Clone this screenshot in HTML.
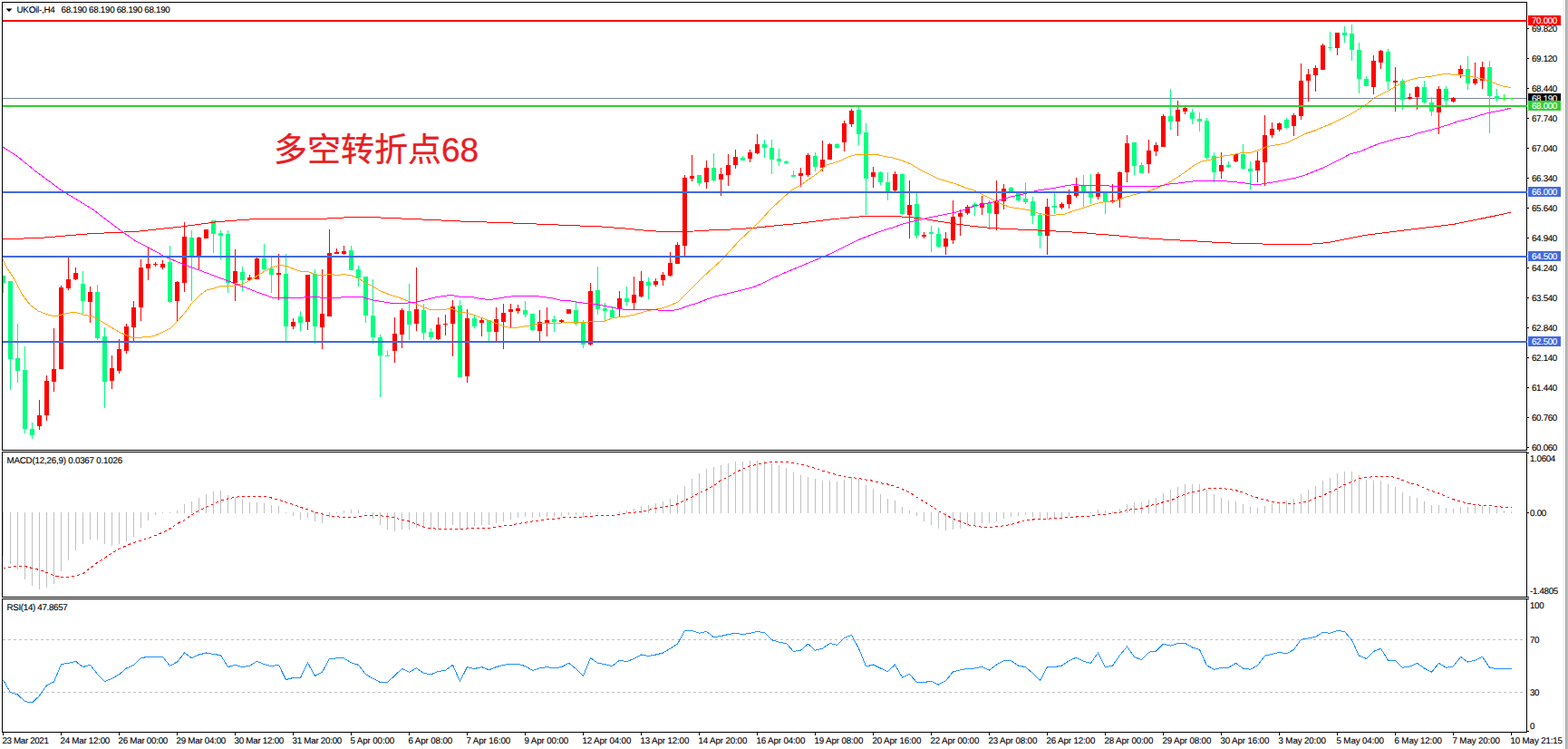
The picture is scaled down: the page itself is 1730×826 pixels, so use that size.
<!DOCTYPE html>
<html><head><meta charset="utf-8"><title>UKOil H4</title>
<style>
html,body{margin:0;padding:0;background:#fff;}
body{width:1730px;height:826px;overflow:hidden;}
svg{display:block;font-family:"Liberation Sans",sans-serif;text-rendering:geometricPrecision;}
</style></head><body>
<svg width="1730" height="826" viewBox="0 0 1730 826">
<rect width="1730" height="826" fill="#fff"/>
<rect x="1725" y="0" width="1" height="826" fill="#e9e9e9"/>
<rect x="1727" y="0" width="1" height="826" fill="#a3a3a3"/>
<rect x="1728" y="0" width="2" height="826" fill="#bcbcbc"/>
<g shape-rendering="crispEdges">
<rect x="3" y="108" width="1681" height="1" fill="#778899"/>
<rect x="3" y="304" width="1" height="19" fill="#00ff7f"/>
<rect x="3" y="304" width="3" height="8" fill="#00ff7f"/>
<rect x="11" y="310" width="1" height="120" fill="#00ff7f"/>
<rect x="9" y="310" width="5" height="86" fill="#00ff7f"/>
<rect x="19" y="357" width="1" height="65" fill="#00ff7f"/>
<rect x="17" y="395" width="5" height="14" fill="#00ff7f"/>
<rect x="27" y="382" width="1" height="96" fill="#00ff7f"/>
<rect x="25" y="408" width="5" height="65" fill="#00ff7f"/>
<rect x="35" y="466" width="1" height="18" fill="#00ff7f"/>
<rect x="33" y="473" width="5" height="7" fill="#00ff7f"/>
<rect x="43" y="441" width="1" height="33" fill="#ff0000"/>
<rect x="41" y="458" width="5" height="12" fill="#ff0000"/>
<rect x="51" y="414" width="1" height="50" fill="#ff0000"/>
<rect x="49" y="420" width="5" height="38" fill="#ff0000"/>
<rect x="59" y="362" width="1" height="70" fill="#ff0000"/>
<rect x="57" y="407" width="5" height="14" fill="#ff0000"/>
<rect x="67" y="315" width="1" height="92" fill="#ff0000"/>
<rect x="65" y="317" width="5" height="90" fill="#ff0000"/>
<rect x="75" y="284" width="1" height="36" fill="#ff0000"/>
<rect x="73" y="308" width="5" height="10" fill="#ff0000"/>
<rect x="83" y="295" width="1" height="14" fill="#ff0000"/>
<rect x="81" y="301" width="5" height="7" fill="#ff0000"/>
<rect x="91" y="299" width="1" height="47" fill="#00ff7f"/>
<rect x="89" y="313" width="5" height="19" fill="#00ff7f"/>
<rect x="99" y="316" width="1" height="40" fill="#ff0000"/>
<rect x="97" y="322" width="5" height="11" fill="#ff0000"/>
<rect x="107" y="314" width="1" height="61" fill="#00ff7f"/>
<rect x="105" y="322" width="5" height="51" fill="#00ff7f"/>
<rect x="115" y="361" width="1" height="89" fill="#00ff7f"/>
<rect x="113" y="371" width="5" height="50" fill="#00ff7f"/>
<rect x="123" y="392" width="1" height="37" fill="#ff0000"/>
<rect x="121" y="406" width="5" height="14" fill="#ff0000"/>
<rect x="131" y="374" width="1" height="38" fill="#ff0000"/>
<rect x="129" y="385" width="5" height="24" fill="#ff0000"/>
<rect x="139" y="357" width="1" height="33" fill="#ff0000"/>
<rect x="137" y="360" width="5" height="27" fill="#ff0000"/>
<rect x="147" y="332" width="1" height="44" fill="#ff0000"/>
<rect x="145" y="339" width="5" height="22" fill="#ff0000"/>
<rect x="155" y="286" width="1" height="68" fill="#ff0000"/>
<rect x="153" y="295" width="5" height="44" fill="#ff0000"/>
<rect x="163" y="273" width="1" height="36" fill="#ff0000"/>
<rect x="161" y="291" width="5" height="5" fill="#ff0000"/>
<rect x="171" y="289" width="1" height="5" fill="#ff0000"/>
<rect x="169" y="291" width="5" height="1" fill="#ff0000"/>
<rect x="179" y="287" width="1" height="10" fill="#ff0000"/>
<rect x="177" y="291" width="5" height="4" fill="#ff0000"/>
<rect x="187" y="271" width="1" height="63" fill="#00ff7f"/>
<rect x="185" y="289" width="5" height="44" fill="#00ff7f"/>
<rect x="195" y="310" width="1" height="44" fill="#ff0000"/>
<rect x="193" y="311" width="5" height="21" fill="#ff0000"/>
<rect x="203" y="245" width="1" height="77" fill="#ff0000"/>
<rect x="201" y="261" width="5" height="51" fill="#ff0000"/>
<rect x="211" y="254" width="1" height="78" fill="#00ff7f"/>
<rect x="209" y="262" width="5" height="20" fill="#00ff7f"/>
<rect x="219" y="261" width="1" height="36" fill="#ff0000"/>
<rect x="217" y="262" width="5" height="20" fill="#ff0000"/>
<rect x="227" y="253" width="1" height="10" fill="#ff0000"/>
<rect x="225" y="253" width="5" height="10" fill="#ff0000"/>
<rect x="235" y="243" width="1" height="36" fill="#00ff7f"/>
<rect x="233" y="243" width="5" height="15" fill="#00ff7f"/>
<rect x="243" y="254" width="1" height="32" fill="#00ff7f"/>
<rect x="241" y="257" width="5" height="3" fill="#00ff7f"/>
<rect x="251" y="254" width="1" height="69" fill="#00ff7f"/>
<rect x="249" y="258" width="5" height="54" fill="#00ff7f"/>
<rect x="259" y="275" width="1" height="57" fill="#ff0000"/>
<rect x="257" y="299" width="5" height="13" fill="#ff0000"/>
<rect x="267" y="294" width="1" height="27" fill="#00ff7f"/>
<rect x="265" y="300" width="5" height="9" fill="#00ff7f"/>
<rect x="275" y="303" width="1" height="7" fill="#ff0000"/>
<rect x="273" y="306" width="5" height="3" fill="#ff0000"/>
<rect x="283" y="284" width="1" height="24" fill="#ff0000"/>
<rect x="281" y="285" width="5" height="23" fill="#ff0000"/>
<rect x="291" y="269" width="1" height="29" fill="#00ff7f"/>
<rect x="289" y="285" width="5" height="12" fill="#00ff7f"/>
<rect x="299" y="284" width="1" height="39" fill="#00ff7f"/>
<rect x="297" y="296" width="5" height="7" fill="#00ff7f"/>
<rect x="307" y="280" width="1" height="51" fill="#ff0000"/>
<rect x="305" y="301" width="5" height="2" fill="#ff0000"/>
<rect x="315" y="280" width="1" height="96" fill="#00ff7f"/>
<rect x="313" y="302" width="5" height="58" fill="#00ff7f"/>
<rect x="323" y="351" width="1" height="12" fill="#ff0000"/>
<rect x="321" y="355" width="5" height="5" fill="#ff0000"/>
<rect x="331" y="343" width="1" height="22" fill="#00ff7f"/>
<rect x="329" y="349" width="5" height="7" fill="#00ff7f"/>
<rect x="339" y="303" width="1" height="61" fill="#ff0000"/>
<rect x="337" y="303" width="5" height="52" fill="#ff0000"/>
<rect x="347" y="297" width="1" height="82" fill="#00ff7f"/>
<rect x="345" y="302" width="5" height="58" fill="#00ff7f"/>
<rect x="355" y="297" width="1" height="88" fill="#ff0000"/>
<rect x="353" y="346" width="5" height="15" fill="#ff0000"/>
<rect x="363" y="253" width="1" height="96" fill="#ff0000"/>
<rect x="361" y="279" width="5" height="70" fill="#ff0000"/>
<rect x="371" y="274" width="1" height="6" fill="#ff0000"/>
<rect x="369" y="278" width="5" height="2" fill="#ff0000"/>
<rect x="379" y="271" width="1" height="10" fill="#ff0000"/>
<rect x="377" y="277" width="5" height="3" fill="#ff0000"/>
<rect x="387" y="271" width="1" height="27" fill="#00ff7f"/>
<rect x="385" y="276" width="5" height="22" fill="#00ff7f"/>
<rect x="395" y="293" width="1" height="23" fill="#00ff7f"/>
<rect x="393" y="297" width="5" height="9" fill="#00ff7f"/>
<rect x="403" y="305" width="1" height="51" fill="#00ff7f"/>
<rect x="401" y="305" width="5" height="43" fill="#00ff7f"/>
<rect x="411" y="308" width="1" height="71" fill="#00ff7f"/>
<rect x="409" y="348" width="5" height="24" fill="#00ff7f"/>
<rect x="419" y="369" width="1" height="69" fill="#00ff7f"/>
<rect x="417" y="372" width="5" height="20" fill="#00ff7f"/>
<rect x="427" y="387" width="1" height="6" fill="#00ff7f"/>
<rect x="425" y="392" width="5" height="1" fill="#00ff7f"/>
<rect x="435" y="350" width="1" height="50" fill="#ff0000"/>
<rect x="433" y="368" width="5" height="19" fill="#ff0000"/>
<rect x="443" y="340" width="1" height="44" fill="#ff0000"/>
<rect x="441" y="342" width="5" height="27" fill="#ff0000"/>
<rect x="451" y="313" width="1" height="62" fill="#00ff7f"/>
<rect x="449" y="343" width="5" height="15" fill="#00ff7f"/>
<rect x="459" y="295" width="1" height="70" fill="#ff0000"/>
<rect x="457" y="341" width="5" height="16" fill="#ff0000"/>
<rect x="467" y="335" width="1" height="40" fill="#00ff7f"/>
<rect x="465" y="342" width="5" height="25" fill="#00ff7f"/>
<rect x="475" y="362" width="1" height="13" fill="#00ff7f"/>
<rect x="473" y="366" width="5" height="6" fill="#00ff7f"/>
<rect x="483" y="350" width="1" height="25" fill="#ff0000"/>
<rect x="481" y="358" width="5" height="16" fill="#ff0000"/>
<rect x="491" y="347" width="1" height="23" fill="#ff0000"/>
<rect x="489" y="357" width="5" height="1" fill="#ff0000"/>
<rect x="499" y="331" width="1" height="62" fill="#ff0000"/>
<rect x="497" y="338" width="5" height="19" fill="#ff0000"/>
<rect x="507" y="331" width="1" height="85" fill="#00ff7f"/>
<rect x="505" y="337" width="5" height="79" fill="#00ff7f"/>
<rect x="515" y="341" width="1" height="81" fill="#ff0000"/>
<rect x="513" y="351" width="5" height="64" fill="#ff0000"/>
<rect x="523" y="348" width="1" height="14" fill="#00ff7f"/>
<rect x="521" y="351" width="5" height="9" fill="#00ff7f"/>
<rect x="531" y="351" width="1" height="20" fill="#ff0000"/>
<rect x="529" y="353" width="5" height="3" fill="#ff0000"/>
<rect x="539" y="353" width="1" height="23" fill="#00ff7f"/>
<rect x="537" y="353" width="5" height="13" fill="#00ff7f"/>
<rect x="547" y="339" width="1" height="37" fill="#ff0000"/>
<rect x="545" y="352" width="5" height="14" fill="#ff0000"/>
<rect x="555" y="335" width="1" height="50" fill="#ff0000"/>
<rect x="553" y="345" width="5" height="10" fill="#ff0000"/>
<rect x="563" y="335" width="1" height="27" fill="#ff0000"/>
<rect x="561" y="341" width="5" height="3" fill="#ff0000"/>
<rect x="571" y="336" width="1" height="10" fill="#ff0000"/>
<rect x="569" y="340" width="5" height="3" fill="#ff0000"/>
<rect x="579" y="332" width="1" height="18" fill="#00ff7f"/>
<rect x="577" y="342" width="5" height="5" fill="#00ff7f"/>
<rect x="587" y="346" width="1" height="19" fill="#00ff7f"/>
<rect x="585" y="346" width="5" height="18" fill="#00ff7f"/>
<rect x="595" y="342" width="1" height="34" fill="#ff0000"/>
<rect x="593" y="355" width="5" height="10" fill="#ff0000"/>
<rect x="603" y="339" width="1" height="32" fill="#ff0000"/>
<rect x="601" y="353" width="5" height="3" fill="#ff0000"/>
<rect x="611" y="348" width="1" height="18" fill="#00ff7f"/>
<rect x="609" y="352" width="5" height="3" fill="#00ff7f"/>
<rect x="619" y="352" width="1" height="4" fill="#ff0000"/>
<rect x="617" y="353" width="5" height="2" fill="#ff0000"/>
<rect x="627" y="341" width="1" height="5" fill="#ff0000"/>
<rect x="625" y="341" width="5" height="5" fill="#ff0000"/>
<rect x="635" y="333" width="1" height="26" fill="#00ff7f"/>
<rect x="633" y="342" width="5" height="15" fill="#00ff7f"/>
<rect x="643" y="353" width="1" height="31" fill="#00ff7f"/>
<rect x="641" y="356" width="5" height="24" fill="#00ff7f"/>
<rect x="651" y="312" width="1" height="69" fill="#ff0000"/>
<rect x="649" y="321" width="5" height="59" fill="#ff0000"/>
<rect x="659" y="294" width="1" height="53" fill="#00ff7f"/>
<rect x="657" y="320" width="5" height="21" fill="#00ff7f"/>
<rect x="667" y="334" width="1" height="20" fill="#00ff7f"/>
<rect x="665" y="340" width="5" height="3" fill="#00ff7f"/>
<rect x="675" y="338" width="1" height="13" fill="#00ff7f"/>
<rect x="673" y="342" width="5" height="8" fill="#00ff7f"/>
<rect x="683" y="321" width="1" height="29" fill="#ff0000"/>
<rect x="681" y="329" width="5" height="11" fill="#ff0000"/>
<rect x="691" y="316" width="1" height="21" fill="#00ff7f"/>
<rect x="689" y="329" width="5" height="4" fill="#00ff7f"/>
<rect x="699" y="305" width="1" height="36" fill="#ff0000"/>
<rect x="697" y="325" width="5" height="9" fill="#ff0000"/>
<rect x="707" y="299" width="1" height="29" fill="#ff0000"/>
<rect x="705" y="310" width="5" height="17" fill="#ff0000"/>
<rect x="715" y="306" width="1" height="24" fill="#00ff7f"/>
<rect x="713" y="311" width="5" height="4" fill="#00ff7f"/>
<rect x="723" y="307" width="1" height="9" fill="#ff0000"/>
<rect x="721" y="310" width="5" height="4" fill="#ff0000"/>
<rect x="731" y="300" width="1" height="15" fill="#ff0000"/>
<rect x="729" y="303" width="5" height="6" fill="#ff0000"/>
<rect x="739" y="278" width="1" height="27" fill="#ff0000"/>
<rect x="737" y="290" width="5" height="14" fill="#ff0000"/>
<rect x="747" y="267" width="1" height="24" fill="#ff0000"/>
<rect x="745" y="270" width="5" height="21" fill="#ff0000"/>
<rect x="755" y="193" width="1" height="89" fill="#ff0000"/>
<rect x="753" y="196" width="5" height="75" fill="#ff0000"/>
<rect x="763" y="171" width="1" height="29" fill="#ff0000"/>
<rect x="761" y="194" width="5" height="3" fill="#ff0000"/>
<rect x="771" y="193" width="1" height="12" fill="#00ff7f"/>
<rect x="769" y="193" width="5" height="9" fill="#00ff7f"/>
<rect x="779" y="177" width="1" height="31" fill="#ff0000"/>
<rect x="777" y="185" width="5" height="16" fill="#ff0000"/>
<rect x="787" y="169" width="1" height="31" fill="#00ff7f"/>
<rect x="785" y="185" width="5" height="14" fill="#00ff7f"/>
<rect x="795" y="185" width="1" height="31" fill="#ff0000"/>
<rect x="793" y="192" width="5" height="6" fill="#ff0000"/>
<rect x="803" y="170" width="1" height="35" fill="#ff0000"/>
<rect x="801" y="182" width="5" height="11" fill="#ff0000"/>
<rect x="811" y="165" width="1" height="21" fill="#ff0000"/>
<rect x="809" y="173" width="5" height="9" fill="#ff0000"/>
<rect x="819" y="172" width="1" height="5" fill="#00ff7f"/>
<rect x="817" y="174" width="5" height="3" fill="#00ff7f"/>
<rect x="827" y="165" width="1" height="14" fill="#ff0000"/>
<rect x="825" y="168" width="5" height="7" fill="#ff0000"/>
<rect x="835" y="148" width="1" height="22" fill="#ff0000"/>
<rect x="833" y="159" width="5" height="10" fill="#ff0000"/>
<rect x="843" y="154" width="1" height="20" fill="#00ff7f"/>
<rect x="841" y="159" width="5" height="4" fill="#00ff7f"/>
<rect x="851" y="154" width="1" height="38" fill="#00ff7f"/>
<rect x="849" y="163" width="5" height="13" fill="#00ff7f"/>
<rect x="859" y="164" width="1" height="19" fill="#00ff7f"/>
<rect x="857" y="175" width="5" height="3" fill="#00ff7f"/>
<rect x="867" y="177" width="1" height="4" fill="#00ff7f"/>
<rect x="865" y="178" width="5" height="2" fill="#00ff7f"/>
<rect x="875" y="188" width="1" height="7" fill="#00ff7f"/>
<rect x="873" y="193" width="5" height="2" fill="#00ff7f"/>
<rect x="883" y="185" width="1" height="21" fill="#ff0000"/>
<rect x="881" y="191" width="5" height="3" fill="#ff0000"/>
<rect x="891" y="169" width="1" height="26" fill="#ff0000"/>
<rect x="889" y="171" width="5" height="22" fill="#ff0000"/>
<rect x="899" y="168" width="1" height="21" fill="#00ff7f"/>
<rect x="897" y="172" width="5" height="12" fill="#00ff7f"/>
<rect x="907" y="155" width="1" height="34" fill="#ff0000"/>
<rect x="905" y="176" width="5" height="9" fill="#ff0000"/>
<rect x="915" y="158" width="1" height="18" fill="#ff0000"/>
<rect x="913" y="159" width="5" height="17" fill="#ff0000"/>
<rect x="923" y="158" width="1" height="6" fill="#00ff7f"/>
<rect x="921" y="159" width="5" height="4" fill="#00ff7f"/>
<rect x="931" y="133" width="1" height="34" fill="#ff0000"/>
<rect x="929" y="136" width="5" height="21" fill="#ff0000"/>
<rect x="939" y="120" width="1" height="20" fill="#ff0000"/>
<rect x="937" y="122" width="5" height="15" fill="#ff0000"/>
<rect x="947" y="118" width="1" height="42" fill="#00ff7f"/>
<rect x="945" y="121" width="5" height="27" fill="#00ff7f"/>
<rect x="955" y="136" width="1" height="101" fill="#00ff7f"/>
<rect x="953" y="146" width="5" height="51" fill="#00ff7f"/>
<rect x="963" y="184" width="1" height="23" fill="#ff0000"/>
<rect x="961" y="190" width="5" height="5" fill="#ff0000"/>
<rect x="971" y="189" width="1" height="15" fill="#00ff7f"/>
<rect x="969" y="190" width="5" height="11" fill="#00ff7f"/>
<rect x="979" y="190" width="1" height="31" fill="#00ff7f"/>
<rect x="977" y="201" width="5" height="10" fill="#00ff7f"/>
<rect x="987" y="189" width="1" height="22" fill="#ff0000"/>
<rect x="985" y="192" width="5" height="18" fill="#ff0000"/>
<rect x="995" y="191" width="1" height="46" fill="#00ff7f"/>
<rect x="993" y="192" width="5" height="44" fill="#00ff7f"/>
<rect x="1003" y="199" width="1" height="64" fill="#ff0000"/>
<rect x="1001" y="226" width="5" height="11" fill="#ff0000"/>
<rect x="1011" y="213" width="1" height="50" fill="#00ff7f"/>
<rect x="1009" y="225" width="5" height="35" fill="#00ff7f"/>
<rect x="1019" y="256" width="1" height="7" fill="#ff0000"/>
<rect x="1017" y="259" width="5" height="2" fill="#ff0000"/>
<rect x="1027" y="249" width="1" height="29" fill="#00ff7f"/>
<rect x="1025" y="256" width="5" height="2" fill="#00ff7f"/>
<rect x="1035" y="251" width="1" height="22" fill="#00ff7f"/>
<rect x="1033" y="258" width="5" height="14" fill="#00ff7f"/>
<rect x="1043" y="256" width="1" height="25" fill="#ff0000"/>
<rect x="1041" y="263" width="5" height="9" fill="#ff0000"/>
<rect x="1051" y="221" width="1" height="48" fill="#ff0000"/>
<rect x="1049" y="239" width="5" height="26" fill="#ff0000"/>
<rect x="1059" y="231" width="1" height="29" fill="#ff0000"/>
<rect x="1057" y="235" width="5" height="4" fill="#ff0000"/>
<rect x="1067" y="226" width="1" height="11" fill="#ff0000"/>
<rect x="1065" y="228" width="5" height="7" fill="#ff0000"/>
<rect x="1075" y="223" width="1" height="15" fill="#00ff7f"/>
<rect x="1073" y="225" width="5" height="3" fill="#00ff7f"/>
<rect x="1083" y="216" width="1" height="21" fill="#ff0000"/>
<rect x="1081" y="224" width="5" height="5" fill="#ff0000"/>
<rect x="1091" y="221" width="1" height="32" fill="#00ff7f"/>
<rect x="1089" y="224" width="5" height="11" fill="#00ff7f"/>
<rect x="1099" y="199" width="1" height="55" fill="#ff0000"/>
<rect x="1097" y="221" width="5" height="15" fill="#ff0000"/>
<rect x="1107" y="203" width="1" height="28" fill="#ff0000"/>
<rect x="1105" y="208" width="5" height="14" fill="#ff0000"/>
<rect x="1115" y="206" width="1" height="6" fill="#00ff7f"/>
<rect x="1113" y="207" width="5" height="5" fill="#00ff7f"/>
<rect x="1123" y="213" width="1" height="9" fill="#00ff7f"/>
<rect x="1121" y="213" width="5" height="8" fill="#00ff7f"/>
<rect x="1131" y="201" width="1" height="24" fill="#00ff7f"/>
<rect x="1129" y="219" width="5" height="4" fill="#00ff7f"/>
<rect x="1139" y="217" width="1" height="30" fill="#00ff7f"/>
<rect x="1137" y="222" width="5" height="16" fill="#00ff7f"/>
<rect x="1147" y="236" width="1" height="38" fill="#00ff7f"/>
<rect x="1145" y="237" width="5" height="23" fill="#00ff7f"/>
<rect x="1155" y="219" width="1" height="62" fill="#ff0000"/>
<rect x="1153" y="228" width="5" height="32" fill="#ff0000"/>
<rect x="1163" y="213" width="1" height="23" fill="#00ff7f"/>
<rect x="1161" y="227" width="5" height="2" fill="#00ff7f"/>
<rect x="1171" y="223" width="1" height="8" fill="#ff0000"/>
<rect x="1169" y="225" width="5" height="4" fill="#ff0000"/>
<rect x="1179" y="209" width="1" height="21" fill="#ff0000"/>
<rect x="1177" y="215" width="5" height="10" fill="#ff0000"/>
<rect x="1187" y="196" width="1" height="22" fill="#ff0000"/>
<rect x="1185" y="205" width="5" height="11" fill="#ff0000"/>
<rect x="1195" y="193" width="1" height="35" fill="#00ff7f"/>
<rect x="1193" y="204" width="5" height="8" fill="#00ff7f"/>
<rect x="1203" y="192" width="1" height="33" fill="#00ff7f"/>
<rect x="1201" y="211" width="5" height="7" fill="#00ff7f"/>
<rect x="1211" y="190" width="1" height="30" fill="#ff0000"/>
<rect x="1209" y="192" width="5" height="25" fill="#ff0000"/>
<rect x="1219" y="212" width="1" height="24" fill="#00ff7f"/>
<rect x="1217" y="213" width="5" height="9" fill="#00ff7f"/>
<rect x="1227" y="203" width="1" height="21" fill="#ff0000"/>
<rect x="1225" y="221" width="5" height="2" fill="#ff0000"/>
<rect x="1235" y="189" width="1" height="40" fill="#ff0000"/>
<rect x="1233" y="190" width="5" height="30" fill="#ff0000"/>
<rect x="1243" y="149" width="1" height="52" fill="#ff0000"/>
<rect x="1241" y="158" width="5" height="32" fill="#ff0000"/>
<rect x="1251" y="157" width="1" height="36" fill="#00ff7f"/>
<rect x="1249" y="157" width="5" height="26" fill="#00ff7f"/>
<rect x="1259" y="179" width="1" height="12" fill="#00ff7f"/>
<rect x="1257" y="182" width="5" height="9" fill="#00ff7f"/>
<rect x="1267" y="154" width="1" height="37" fill="#ff0000"/>
<rect x="1265" y="166" width="5" height="15" fill="#ff0000"/>
<rect x="1275" y="157" width="1" height="15" fill="#ff0000"/>
<rect x="1273" y="160" width="5" height="7" fill="#ff0000"/>
<rect x="1283" y="126" width="1" height="36" fill="#ff0000"/>
<rect x="1281" y="128" width="5" height="34" fill="#ff0000"/>
<rect x="1291" y="98" width="1" height="45" fill="#00ff7f"/>
<rect x="1289" y="128" width="5" height="6" fill="#00ff7f"/>
<rect x="1299" y="111" width="1" height="39" fill="#ff0000"/>
<rect x="1297" y="121" width="5" height="13" fill="#ff0000"/>
<rect x="1307" y="118" width="1" height="8" fill="#ff0000"/>
<rect x="1305" y="119" width="5" height="4" fill="#ff0000"/>
<rect x="1315" y="120" width="1" height="17" fill="#00ff7f"/>
<rect x="1313" y="124" width="5" height="7" fill="#00ff7f"/>
<rect x="1323" y="124" width="1" height="21" fill="#00ff7f"/>
<rect x="1321" y="131" width="5" height="3" fill="#00ff7f"/>
<rect x="1331" y="130" width="1" height="46" fill="#00ff7f"/>
<rect x="1329" y="133" width="5" height="41" fill="#00ff7f"/>
<rect x="1339" y="168" width="1" height="33" fill="#00ff7f"/>
<rect x="1337" y="172" width="5" height="18" fill="#00ff7f"/>
<rect x="1347" y="168" width="1" height="29" fill="#ff0000"/>
<rect x="1345" y="182" width="5" height="7" fill="#ff0000"/>
<rect x="1355" y="178" width="1" height="7" fill="#00ff7f"/>
<rect x="1353" y="182" width="5" height="2" fill="#00ff7f"/>
<rect x="1363" y="169" width="1" height="10" fill="#ff0000"/>
<rect x="1361" y="170" width="5" height="8" fill="#ff0000"/>
<rect x="1371" y="159" width="1" height="28" fill="#00ff7f"/>
<rect x="1369" y="170" width="5" height="16" fill="#00ff7f"/>
<rect x="1379" y="178" width="1" height="31" fill="#00ff7f"/>
<rect x="1377" y="186" width="5" height="3" fill="#00ff7f"/>
<rect x="1387" y="167" width="1" height="34" fill="#ff0000"/>
<rect x="1385" y="177" width="5" height="11" fill="#ff0000"/>
<rect x="1395" y="127" width="1" height="78" fill="#ff0000"/>
<rect x="1393" y="149" width="5" height="30" fill="#ff0000"/>
<rect x="1403" y="135" width="1" height="17" fill="#ff0000"/>
<rect x="1401" y="142" width="5" height="7" fill="#ff0000"/>
<rect x="1411" y="135" width="1" height="10" fill="#ff0000"/>
<rect x="1409" y="136" width="5" height="7" fill="#ff0000"/>
<rect x="1419" y="130" width="1" height="12" fill="#00ff7f"/>
<rect x="1417" y="132" width="5" height="9" fill="#00ff7f"/>
<rect x="1427" y="125" width="1" height="25" fill="#ff0000"/>
<rect x="1425" y="127" width="5" height="12" fill="#ff0000"/>
<rect x="1435" y="70" width="1" height="62" fill="#ff0000"/>
<rect x="1433" y="89" width="5" height="39" fill="#ff0000"/>
<rect x="1443" y="76" width="1" height="36" fill="#ff0000"/>
<rect x="1441" y="82" width="5" height="7" fill="#ff0000"/>
<rect x="1451" y="72" width="1" height="29" fill="#ff0000"/>
<rect x="1449" y="75" width="5" height="8" fill="#ff0000"/>
<rect x="1459" y="48" width="1" height="29" fill="#ff0000"/>
<rect x="1457" y="50" width="5" height="27" fill="#ff0000"/>
<rect x="1467" y="35" width="1" height="21" fill="#00ff7f"/>
<rect x="1465" y="52" width="5" height="1" fill="#00ff7f"/>
<rect x="1475" y="36" width="1" height="25" fill="#ff0000"/>
<rect x="1473" y="36" width="5" height="17" fill="#ff0000"/>
<rect x="1483" y="29" width="1" height="18" fill="#00ff7f"/>
<rect x="1481" y="36" width="5" height="3" fill="#00ff7f"/>
<rect x="1491" y="27" width="1" height="40" fill="#00ff7f"/>
<rect x="1489" y="37" width="5" height="18" fill="#00ff7f"/>
<rect x="1499" y="47" width="1" height="56" fill="#00ff7f"/>
<rect x="1497" y="55" width="5" height="32" fill="#00ff7f"/>
<rect x="1507" y="84" width="1" height="11" fill="#00ff7f"/>
<rect x="1505" y="87" width="5" height="8" fill="#00ff7f"/>
<rect x="1515" y="61" width="1" height="43" fill="#ff0000"/>
<rect x="1513" y="67" width="5" height="29" fill="#ff0000"/>
<rect x="1523" y="55" width="1" height="21" fill="#ff0000"/>
<rect x="1521" y="56" width="5" height="13" fill="#ff0000"/>
<rect x="1531" y="54" width="1" height="45" fill="#00ff7f"/>
<rect x="1529" y="57" width="5" height="33" fill="#00ff7f"/>
<rect x="1539" y="74" width="1" height="49" fill="#ff0000"/>
<rect x="1537" y="89" width="5" height="2" fill="#ff0000"/>
<rect x="1547" y="87" width="1" height="34" fill="#00ff7f"/>
<rect x="1545" y="89" width="5" height="21" fill="#00ff7f"/>
<rect x="1555" y="103" width="1" height="7" fill="#ff0000"/>
<rect x="1553" y="107" width="5" height="2" fill="#ff0000"/>
<rect x="1563" y="95" width="1" height="26" fill="#ff0000"/>
<rect x="1561" y="96" width="5" height="11" fill="#ff0000"/>
<rect x="1571" y="89" width="1" height="25" fill="#00ff7f"/>
<rect x="1569" y="96" width="5" height="17" fill="#00ff7f"/>
<rect x="1579" y="107" width="1" height="21" fill="#00ff7f"/>
<rect x="1577" y="113" width="5" height="10" fill="#00ff7f"/>
<rect x="1587" y="95" width="1" height="53" fill="#ff0000"/>
<rect x="1585" y="98" width="5" height="26" fill="#ff0000"/>
<rect x="1595" y="95" width="1" height="24" fill="#00ff7f"/>
<rect x="1593" y="98" width="5" height="13" fill="#00ff7f"/>
<rect x="1603" y="107" width="1" height="6" fill="#ff0000"/>
<rect x="1601" y="108" width="5" height="4" fill="#ff0000"/>
<rect x="1611" y="72" width="1" height="14" fill="#ff0000"/>
<rect x="1609" y="76" width="5" height="6" fill="#ff0000"/>
<rect x="1619" y="62" width="1" height="37" fill="#00ff7f"/>
<rect x="1617" y="76" width="5" height="16" fill="#00ff7f"/>
<rect x="1627" y="69" width="1" height="25" fill="#ff0000"/>
<rect x="1625" y="87" width="5" height="5" fill="#ff0000"/>
<rect x="1635" y="68" width="1" height="30" fill="#ff0000"/>
<rect x="1633" y="74" width="5" height="15" fill="#ff0000"/>
<rect x="1643" y="67" width="1" height="80" fill="#00ff7f"/>
<rect x="1641" y="74" width="5" height="32" fill="#00ff7f"/>
<rect x="1651" y="98" width="1" height="14" fill="#00ff7f"/>
<rect x="1649" y="106" width="5" height="3" fill="#00ff7f"/>
<rect x="1659" y="104" width="1" height="7" fill="#00ff00"/>
<rect x="1657" y="108" width="5" height="1" fill="#00ff00"/>
<rect x="1667" y="108" width="1" height="1" fill="#00ff00"/>
<rect x="1665" y="108" width="5" height="1" fill="#00ff00"/>
</g>
<g shape-rendering="crispEdges">
<polyline points="3.0,264.0 49.0,262.0 98.0,257.8 150.0,255.4 200.0,250.0 240.0,244.6 280.0,241.6 350.0,241.6 397.0,239.0 474.6,242.4 508.0,244.0 580.0,246.5 630.0,248.6 664.0,250.0 690.0,252.0 710.0,254.0 730.0,255.4 766.0,255.0 782.0,254.0 806.0,253.0 830.0,251.6 850.0,249.4 880.0,246.5 916.0,242.0 952.0,238.6 980.0,238.6 995.0,239.0 1015.0,240.6 1035.0,244.0 1055.0,247.0 1075.0,249.6 1095.0,251.6 1115.0,252.6 1135.0,253.6 1155.0,254.4 1175.0,255.6 1195.0,256.6 1209.0,258.0 1229.0,259.4 1258.0,262.3 1287.0,264.3 1316.0,265.7 1344.5,267.5 1373.0,268.6 1402.0,269.2 1446.0,269.2 1466.0,267.5 1489.0,262.8 1506.0,259.4 1547.0,254.2 1576.0,250.7 1604.6,247.2 1633.5,241.2 1651.0,237.7 1667.0,234.2" fill="none" stroke="#ff0000" stroke-width="1"/>
<polyline points="3.0,286.0 8.0,296.0 16.0,308.0 24.0,324.0 33.0,336.0 42.0,343.0 50.0,346.0 60.0,349.0 72.0,346.0 82.0,344.0 92.0,347.0 102.0,349.0 111.0,354.0 121.0,360.0 133.0,367.0 145.0,372.0 157.0,372.0 164.0,371.5 170.0,370.6 180.0,366.0 188.0,362.0 196.0,354.0 204.0,345.0 212.0,334.0 220.0,326.0 228.0,320.0 236.0,318.0 244.0,315.4 252.0,316.0 260.0,314.6 268.0,313.0 276.0,309.0 284.0,304.0 292.0,299.0 300.0,295.0 308.0,292.4 316.0,293.4 324.0,296.6 332.0,299.4 340.0,299.4 348.0,303.0 356.0,303.4 364.0,302.6 372.0,303.4 380.0,302.6 388.0,304.0 396.0,307.0 400.0,310.0 410.0,315.0 420.0,321.0 430.0,325.0 440.0,328.0 450.0,332.0 458.0,335.0 466.0,338.0 474.0,341.4 482.0,341.6 490.0,341.6 498.0,340.0 506.0,344.0 514.0,345.0 522.0,347.0 530.0,350.0 538.0,353.0 546.0,356.0 554.0,359.0 562.0,361.4 570.0,361.4 578.0,360.0 586.0,358.6 594.0,357.0 602.0,356.0 610.0,356.0 620.0,356.0 630.0,355.6 640.0,355.4 650.0,355.0 666.0,354.6 676.0,350.6 690.0,349.0 700.0,347.0 710.0,344.0 720.0,341.6 730.0,340.0 740.0,336.6 748.0,333.0 756.0,325.0 766.0,315.0 776.0,305.0 786.0,296.0 796.0,287.0 806.0,276.0 816.0,265.0 830.0,252.0 840.0,242.0 852.0,229.0 864.0,218.0 874.0,209.0 884.0,204.0 892.0,198.0 902.0,191.0 912.0,182.0 920.0,179.6 928.0,177.0 936.0,173.0 944.0,170.6 952.0,170.0 960.0,170.0 968.0,170.4 976.0,172.4 985.0,174.0 995.0,177.0 1005.0,181.0 1015.0,187.0 1025.0,192.0 1035.0,197.0 1045.0,200.0 1055.0,203.0 1065.0,207.0 1075.0,210.0 1085.0,215.0 1095.0,220.0 1105.0,225.0 1115.0,228.6 1125.0,230.0 1135.0,231.6 1145.0,235.0 1155.0,237.0 1165.0,237.0 1175.0,236.0 1185.0,232.4 1195.0,229.4 1205.0,226.0 1213.0,223.6 1220.0,222.6 1230.0,222.0 1240.0,218.0 1250.0,215.0 1260.0,212.6 1270.0,210.0 1280.0,206.0 1290.0,201.0 1300.0,195.0 1310.0,188.0 1318.0,182.0 1326.0,178.0 1334.0,176.6 1342.0,174.0 1350.0,172.0 1360.0,170.6 1370.0,168.6 1380.0,168.4 1390.0,165.0 1398.0,161.4 1410.0,159.6 1420.0,157.5 1430.0,152.5 1440.0,147.5 1450.0,144.2 1460.0,140.0 1470.0,136.0 1480.0,131.0 1490.0,126.0 1500.0,120.0 1508.0,115.0 1516.0,108.0 1524.0,104.0 1532.0,100.0 1540.0,95.0 1548.0,91.0 1556.0,88.0 1564.0,86.0 1572.0,85.0 1580.0,84.0 1588.0,82.4 1596.0,81.4 1604.0,82.4 1612.0,83.0 1620.0,84.0 1628.0,85.4 1636.0,87.0 1644.0,89.6 1652.0,93.0 1660.0,95.6 1667.0,96.4" fill="none" stroke="#ffa500" stroke-width="1"/>
<polyline points="3.0,162.0 20.0,173.0 40.7,190.0 68.0,210.0 101.7,230.5 135.6,256.0 150.0,266.0 164.0,273.0 180.0,282.0 196.0,289.0 212.0,295.0 228.0,301.0 244.0,307.0 260.0,313.0 268.0,316.0 276.0,319.0 284.0,322.4 292.0,325.0 300.0,328.0 308.0,328.6 316.0,328.6 330.0,328.6 340.0,327.4 350.0,327.4 356.0,328.6 370.0,328.6 380.0,327.6 400.0,327.8 410.0,330.6 420.0,332.4 430.0,334.0 440.0,335.0 450.0,334.0 460.0,333.0 470.0,330.6 480.0,328.0 490.0,326.4 498.0,325.4 506.0,327.0 520.0,327.4 530.0,329.4 540.0,330.6 550.0,329.0 560.0,327.4 570.0,326.4 590.0,326.4 600.0,327.6 610.0,329.0 620.0,331.4 630.0,332.0 640.0,333.8 650.0,334.6 660.0,336.0 670.0,338.0 680.0,340.0 690.0,341.4 720.0,341.4 730.0,342.4 742.0,342.4 748.0,341.4 760.0,337.0 770.0,334.0 780.0,330.0 790.0,326.6 800.0,324.4 810.0,322.0 820.0,319.6 830.0,317.0 840.0,313.0 850.0,308.0 860.0,303.4 870.0,299.0 880.0,295.0 916.0,280.0 930.0,273.0 946.0,265.0 960.0,259.4 976.0,253.5 985.0,251.0 995.0,247.4 1005.0,244.6 1015.0,242.4 1025.0,240.0 1035.0,238.0 1045.0,236.0 1055.0,234.0 1065.0,231.0 1075.0,227.0 1085.0,225.0 1095.0,223.0 1105.0,220.0 1115.0,217.0 1125.0,215.0 1135.0,212.4 1145.0,210.0 1155.0,208.6 1165.0,207.0 1175.0,205.0 1185.0,203.6 1195.0,204.4 1215.0,204.4 1230.0,205.4 1250.0,206.0 1270.0,205.4 1280.0,205.0 1290.0,203.0 1300.0,202.0 1310.0,200.6 1320.0,199.6 1350.0,199.6 1360.0,200.6 1370.0,201.4 1380.0,203.0 1390.0,203.4 1400.0,201.6 1410.0,200.0 1420.0,198.0 1430.0,196.0 1440.0,193.0 1450.0,189.0 1460.0,185.0 1470.0,180.0 1480.0,175.0 1490.0,169.6 1500.0,167.4 1510.0,163.0 1520.0,159.0 1530.0,156.0 1540.0,153.0 1556.0,150.0 1564.0,147.0 1580.0,143.0 1590.0,140.0 1600.0,137.0 1610.0,133.4 1620.0,131.0 1630.0,128.0 1640.0,125.0 1650.0,123.0 1660.0,121.0 1667.0,119.0" fill="none" stroke="#ff00ff" stroke-width="1"/>
</g>
<g shape-rendering="crispEdges">
<rect x="3" y="565" width="1" height="48" fill="#c0c0c0"/>
<rect x="11" y="565" width="1" height="57" fill="#c0c0c0"/>
<rect x="19" y="565" width="1" height="63" fill="#c0c0c0"/>
<rect x="27" y="565" width="1" height="74" fill="#c0c0c0"/>
<rect x="35" y="565" width="1" height="81" fill="#c0c0c0"/>
<rect x="43" y="565" width="1" height="85" fill="#c0c0c0"/>
<rect x="51" y="565" width="1" height="83" fill="#c0c0c0"/>
<rect x="59" y="565" width="1" height="79" fill="#c0c0c0"/>
<rect x="67" y="565" width="1" height="65" fill="#c0c0c0"/>
<rect x="75" y="565" width="1" height="53" fill="#c0c0c0"/>
<rect x="83" y="565" width="1" height="42" fill="#c0c0c0"/>
<rect x="91" y="565" width="1" height="35" fill="#c0c0c0"/>
<rect x="99" y="565" width="1" height="30" fill="#c0c0c0"/>
<rect x="107" y="565" width="1" height="30" fill="#c0c0c0"/>
<rect x="115" y="565" width="1" height="35" fill="#c0c0c0"/>
<rect x="123" y="565" width="1" height="37" fill="#c0c0c0"/>
<rect x="131" y="565" width="1" height="35" fill="#c0c0c0"/>
<rect x="139" y="565" width="1" height="32" fill="#c0c0c0"/>
<rect x="147" y="565" width="1" height="27" fill="#c0c0c0"/>
<rect x="155" y="565" width="1" height="17" fill="#c0c0c0"/>
<rect x="163" y="565" width="1" height="9" fill="#c0c0c0"/>
<rect x="171" y="565" width="1" height="3" fill="#c0c0c0"/>
<rect x="179" y="565" width="1" height="1" fill="#c0c0c0"/>
<rect x="187" y="565" width="1" height="1" fill="#c0c0c0"/>
<rect x="195" y="563" width="1" height="3" fill="#c0c0c0"/>
<rect x="203" y="556" width="1" height="10" fill="#c0c0c0"/>
<rect x="211" y="553" width="1" height="13" fill="#c0c0c0"/>
<rect x="219" y="549" width="1" height="17" fill="#c0c0c0"/>
<rect x="227" y="545" width="1" height="21" fill="#c0c0c0"/>
<rect x="235" y="542" width="1" height="24" fill="#c0c0c0"/>
<rect x="243" y="541" width="1" height="25" fill="#c0c0c0"/>
<rect x="251" y="546" width="1" height="20" fill="#c0c0c0"/>
<rect x="259" y="548" width="1" height="18" fill="#c0c0c0"/>
<rect x="267" y="551" width="1" height="15" fill="#c0c0c0"/>
<rect x="275" y="554" width="1" height="12" fill="#c0c0c0"/>
<rect x="283" y="554" width="1" height="12" fill="#c0c0c0"/>
<rect x="291" y="555" width="1" height="11" fill="#c0c0c0"/>
<rect x="299" y="557" width="1" height="9" fill="#c0c0c0"/>
<rect x="307" y="558" width="1" height="8" fill="#c0c0c0"/>
<rect x="315" y="565" width="1" height="1" fill="#c0c0c0"/>
<rect x="323" y="565" width="1" height="4" fill="#c0c0c0"/>
<rect x="331" y="565" width="1" height="8" fill="#c0c0c0"/>
<rect x="339" y="565" width="1" height="6" fill="#c0c0c0"/>
<rect x="347" y="565" width="1" height="10" fill="#c0c0c0"/>
<rect x="355" y="565" width="1" height="12" fill="#c0c0c0"/>
<rect x="363" y="565" width="1" height="6" fill="#c0c0c0"/>
<rect x="371" y="565" width="1" height="1" fill="#c0c0c0"/>
<rect x="379" y="563" width="1" height="3" fill="#c0c0c0"/>
<rect x="387" y="562" width="1" height="4" fill="#c0c0c0"/>
<rect x="395" y="562" width="1" height="4" fill="#c0c0c0"/>
<rect x="403" y="565" width="1" height="1" fill="#c0c0c0"/>
<rect x="411" y="565" width="1" height="7" fill="#c0c0c0"/>
<rect x="419" y="565" width="1" height="14" fill="#c0c0c0"/>
<rect x="427" y="565" width="1" height="19" fill="#c0c0c0"/>
<rect x="435" y="565" width="1" height="21" fill="#c0c0c0"/>
<rect x="443" y="565" width="1" height="19" fill="#c0c0c0"/>
<rect x="451" y="565" width="1" height="19" fill="#c0c0c0"/>
<rect x="459" y="565" width="1" height="17" fill="#c0c0c0"/>
<rect x="467" y="565" width="1" height="17" fill="#c0c0c0"/>
<rect x="475" y="565" width="1" height="19" fill="#c0c0c0"/>
<rect x="483" y="565" width="1" height="19" fill="#c0c0c0"/>
<rect x="491" y="565" width="1" height="17" fill="#c0c0c0"/>
<rect x="499" y="565" width="1" height="14" fill="#c0c0c0"/>
<rect x="507" y="565" width="1" height="19" fill="#c0c0c0"/>
<rect x="515" y="565" width="1" height="17" fill="#c0c0c0"/>
<rect x="523" y="565" width="1" height="15" fill="#c0c0c0"/>
<rect x="531" y="565" width="1" height="14" fill="#c0c0c0"/>
<rect x="539" y="565" width="1" height="14" fill="#c0c0c0"/>
<rect x="547" y="565" width="1" height="12" fill="#c0c0c0"/>
<rect x="555" y="565" width="1" height="10" fill="#c0c0c0"/>
<rect x="563" y="565" width="1" height="8" fill="#c0c0c0"/>
<rect x="571" y="565" width="1" height="6" fill="#c0c0c0"/>
<rect x="579" y="565" width="1" height="5" fill="#c0c0c0"/>
<rect x="587" y="565" width="1" height="6" fill="#c0c0c0"/>
<rect x="595" y="565" width="1" height="5" fill="#c0c0c0"/>
<rect x="603" y="565" width="1" height="5" fill="#c0c0c0"/>
<rect x="611" y="565" width="1" height="5" fill="#c0c0c0"/>
<rect x="619" y="565" width="1" height="4" fill="#c0c0c0"/>
<rect x="627" y="565" width="1" height="3" fill="#c0c0c0"/>
<rect x="635" y="565" width="1" height="3" fill="#c0c0c0"/>
<rect x="643" y="565" width="1" height="6" fill="#c0c0c0"/>
<rect x="651" y="565" width="1" height="2" fill="#c0c0c0"/>
<rect x="659" y="565" width="1" height="1" fill="#c0c0c0"/>
<rect x="683" y="564" width="1" height="2" fill="#c0c0c0"/>
<rect x="691" y="563" width="1" height="3" fill="#c0c0c0"/>
<rect x="699" y="561" width="1" height="5" fill="#c0c0c0"/>
<rect x="707" y="558" width="1" height="8" fill="#c0c0c0"/>
<rect x="715" y="557" width="1" height="9" fill="#c0c0c0"/>
<rect x="723" y="555" width="1" height="11" fill="#c0c0c0"/>
<rect x="731" y="553" width="1" height="13" fill="#c0c0c0"/>
<rect x="739" y="550" width="1" height="16" fill="#c0c0c0"/>
<rect x="747" y="546" width="1" height="20" fill="#c0c0c0"/>
<rect x="755" y="536" width="1" height="30" fill="#c0c0c0"/>
<rect x="763" y="528" width="1" height="38" fill="#c0c0c0"/>
<rect x="771" y="522" width="1" height="44" fill="#c0c0c0"/>
<rect x="779" y="517" width="1" height="49" fill="#c0c0c0"/>
<rect x="787" y="515" width="1" height="51" fill="#c0c0c0"/>
<rect x="795" y="513" width="1" height="53" fill="#c0c0c0"/>
<rect x="803" y="511" width="1" height="55" fill="#c0c0c0"/>
<rect x="811" y="509" width="1" height="57" fill="#c0c0c0"/>
<rect x="819" y="509" width="1" height="57" fill="#c0c0c0"/>
<rect x="827" y="508" width="1" height="58" fill="#c0c0c0"/>
<rect x="835" y="508" width="1" height="58" fill="#c0c0c0"/>
<rect x="843" y="508" width="1" height="58" fill="#c0c0c0"/>
<rect x="851" y="511" width="1" height="55" fill="#c0c0c0"/>
<rect x="859" y="513" width="1" height="53" fill="#c0c0c0"/>
<rect x="867" y="516" width="1" height="50" fill="#c0c0c0"/>
<rect x="875" y="521" width="1" height="45" fill="#c0c0c0"/>
<rect x="883" y="524" width="1" height="42" fill="#c0c0c0"/>
<rect x="891" y="526" width="1" height="40" fill="#c0c0c0"/>
<rect x="899" y="528" width="1" height="38" fill="#c0c0c0"/>
<rect x="907" y="530" width="1" height="36" fill="#c0c0c0"/>
<rect x="915" y="530" width="1" height="36" fill="#c0c0c0"/>
<rect x="923" y="531" width="1" height="35" fill="#c0c0c0"/>
<rect x="931" y="529" width="1" height="37" fill="#c0c0c0"/>
<rect x="939" y="526" width="1" height="40" fill="#c0c0c0"/>
<rect x="947" y="528" width="1" height="38" fill="#c0c0c0"/>
<rect x="955" y="535" width="1" height="31" fill="#c0c0c0"/>
<rect x="963" y="539" width="1" height="27" fill="#c0c0c0"/>
<rect x="971" y="545" width="1" height="21" fill="#c0c0c0"/>
<rect x="979" y="550" width="1" height="16" fill="#c0c0c0"/>
<rect x="987" y="552" width="1" height="14" fill="#c0c0c0"/>
<rect x="995" y="559" width="1" height="7" fill="#c0c0c0"/>
<rect x="1003" y="563" width="1" height="3" fill="#c0c0c0"/>
<rect x="1011" y="565" width="1" height="4" fill="#c0c0c0"/>
<rect x="1019" y="565" width="1" height="10" fill="#c0c0c0"/>
<rect x="1027" y="565" width="1" height="14" fill="#c0c0c0"/>
<rect x="1035" y="565" width="1" height="18" fill="#c0c0c0"/>
<rect x="1043" y="565" width="1" height="20" fill="#c0c0c0"/>
<rect x="1051" y="565" width="1" height="19" fill="#c0c0c0"/>
<rect x="1059" y="565" width="1" height="18" fill="#c0c0c0"/>
<rect x="1067" y="565" width="1" height="15" fill="#c0c0c0"/>
<rect x="1075" y="565" width="1" height="14" fill="#c0c0c0"/>
<rect x="1083" y="565" width="1" height="12" fill="#c0c0c0"/>
<rect x="1091" y="565" width="1" height="12" fill="#c0c0c0"/>
<rect x="1099" y="565" width="1" height="10" fill="#c0c0c0"/>
<rect x="1107" y="565" width="1" height="7" fill="#c0c0c0"/>
<rect x="1115" y="565" width="1" height="5" fill="#c0c0c0"/>
<rect x="1123" y="565" width="1" height="4" fill="#c0c0c0"/>
<rect x="1131" y="565" width="1" height="3" fill="#c0c0c0"/>
<rect x="1139" y="565" width="1" height="5" fill="#c0c0c0"/>
<rect x="1147" y="565" width="1" height="8" fill="#c0c0c0"/>
<rect x="1155" y="565" width="1" height="8" fill="#c0c0c0"/>
<rect x="1163" y="565" width="1" height="7" fill="#c0c0c0"/>
<rect x="1171" y="565" width="1" height="6" fill="#c0c0c0"/>
<rect x="1179" y="565" width="1" height="4" fill="#c0c0c0"/>
<rect x="1187" y="565" width="1" height="1" fill="#c0c0c0"/>
<rect x="1203" y="565" width="1" height="1" fill="#c0c0c0"/>
<rect x="1211" y="562" width="1" height="4" fill="#c0c0c0"/>
<rect x="1219" y="563" width="1" height="3" fill="#c0c0c0"/>
<rect x="1227" y="564" width="1" height="2" fill="#c0c0c0"/>
<rect x="1235" y="561" width="1" height="5" fill="#c0c0c0"/>
<rect x="1243" y="556" width="1" height="10" fill="#c0c0c0"/>
<rect x="1251" y="554" width="1" height="12" fill="#c0c0c0"/>
<rect x="1259" y="554" width="1" height="12" fill="#c0c0c0"/>
<rect x="1267" y="551" width="1" height="15" fill="#c0c0c0"/>
<rect x="1275" y="549" width="1" height="17" fill="#c0c0c0"/>
<rect x="1283" y="544" width="1" height="22" fill="#c0c0c0"/>
<rect x="1291" y="540" width="1" height="26" fill="#c0c0c0"/>
<rect x="1299" y="537" width="1" height="29" fill="#c0c0c0"/>
<rect x="1307" y="534" width="1" height="32" fill="#c0c0c0"/>
<rect x="1315" y="534" width="1" height="32" fill="#c0c0c0"/>
<rect x="1323" y="534" width="1" height="32" fill="#c0c0c0"/>
<rect x="1331" y="540" width="1" height="26" fill="#c0c0c0"/>
<rect x="1339" y="545" width="1" height="21" fill="#c0c0c0"/>
<rect x="1347" y="549" width="1" height="17" fill="#c0c0c0"/>
<rect x="1355" y="552" width="1" height="14" fill="#c0c0c0"/>
<rect x="1363" y="553" width="1" height="13" fill="#c0c0c0"/>
<rect x="1371" y="556" width="1" height="10" fill="#c0c0c0"/>
<rect x="1379" y="559" width="1" height="7" fill="#c0c0c0"/>
<rect x="1387" y="560" width="1" height="6" fill="#c0c0c0"/>
<rect x="1395" y="558" width="1" height="8" fill="#c0c0c0"/>
<rect x="1403" y="556" width="1" height="10" fill="#c0c0c0"/>
<rect x="1411" y="554" width="1" height="12" fill="#c0c0c0"/>
<rect x="1419" y="552" width="1" height="14" fill="#c0c0c0"/>
<rect x="1427" y="550" width="1" height="16" fill="#c0c0c0"/>
<rect x="1435" y="545" width="1" height="21" fill="#c0c0c0"/>
<rect x="1443" y="540" width="1" height="26" fill="#c0c0c0"/>
<rect x="1451" y="536" width="1" height="30" fill="#c0c0c0"/>
<rect x="1459" y="530" width="1" height="36" fill="#c0c0c0"/>
<rect x="1467" y="527" width="1" height="39" fill="#c0c0c0"/>
<rect x="1475" y="522" width="1" height="44" fill="#c0c0c0"/>
<rect x="1483" y="520" width="1" height="46" fill="#c0c0c0"/>
<rect x="1491" y="520" width="1" height="46" fill="#c0c0c0"/>
<rect x="1499" y="524" width="1" height="42" fill="#c0c0c0"/>
<rect x="1507" y="529" width="1" height="37" fill="#c0c0c0"/>
<rect x="1515" y="530" width="1" height="36" fill="#c0c0c0"/>
<rect x="1523" y="530" width="1" height="36" fill="#c0c0c0"/>
<rect x="1531" y="534" width="1" height="32" fill="#c0c0c0"/>
<rect x="1539" y="537" width="1" height="29" fill="#c0c0c0"/>
<rect x="1547" y="543" width="1" height="23" fill="#c0c0c0"/>
<rect x="1555" y="547" width="1" height="19" fill="#c0c0c0"/>
<rect x="1563" y="549" width="1" height="17" fill="#c0c0c0"/>
<rect x="1571" y="553" width="1" height="13" fill="#c0c0c0"/>
<rect x="1579" y="557" width="1" height="9" fill="#c0c0c0"/>
<rect x="1587" y="557" width="1" height="9" fill="#c0c0c0"/>
<rect x="1595" y="560" width="1" height="6" fill="#c0c0c0"/>
<rect x="1603" y="561" width="1" height="5" fill="#c0c0c0"/>
<rect x="1611" y="559" width="1" height="7" fill="#c0c0c0"/>
<rect x="1619" y="559" width="1" height="7" fill="#c0c0c0"/>
<rect x="1627" y="558" width="1" height="8" fill="#c0c0c0"/>
<rect x="1635" y="558" width="1" height="8" fill="#c0c0c0"/>
<rect x="1643" y="559" width="1" height="7" fill="#c0c0c0"/>
<rect x="1651" y="561" width="1" height="5" fill="#c0c0c0"/>
<rect x="1659" y="563" width="1" height="3" fill="#c0c0c0"/>
<rect x="1667" y="564" width="1" height="2" fill="#c0c0c0"/>
<polyline points="3.5,627.2 11.5,625.3 19.5,624.5 27.5,624.5 35.5,626.5 43.5,628.5 51.5,631.5 59.5,634.7 67.5,636.4 75.5,636.4 83.5,635.2 91.5,632.7 99.5,626.5 107.5,620.3 115.5,615.3 123.5,609.8 131.5,605.4 139.5,601.6 147.5,598.4 155.5,596.0 163.5,593.7 171.5,590.5 179.5,587.2 187.5,583.0 195.5,577.5 203.5,573.6 211.5,568.0 219.5,563.0 227.5,559.4 235.5,555.7 243.5,552.0 251.5,550.0 259.5,548.2 267.5,547.5 275.5,547.5 283.5,547.5 291.5,547.5 299.5,549.0 307.5,551.2 315.5,553.7 323.5,556.4 331.5,559.4 339.5,561.9 347.5,565.1 355.5,566.8 363.5,568.8 371.5,569.8 379.5,570.6 387.5,570.6 395.5,569.8 403.5,568.8 411.5,568.6 419.5,568.6 427.5,569.8 435.5,571.0 443.5,573.5 451.5,575.0 459.5,578.0 467.5,581.3 475.5,582.5 483.5,583.5 491.5,583.5 499.5,583.5 507.5,583.5 515.5,583.0 523.5,582.5 531.5,582.5 539.5,582.3 547.5,581.3 555.5,580.0 563.5,579.3 571.5,577.5 579.5,576.3 587.5,575.0 595.5,574.3 603.5,573.0 611.5,572.3 619.5,571.3 627.5,570.0 635.5,570.0 643.5,570.0 651.5,569.3 659.5,568.8 667.5,568.3 675.5,568.3 683.5,567.3 691.5,566.3 699.5,565.1 707.5,564.4 715.5,562.4 723.5,560.6 731.5,558.9 739.5,558.1 747.5,555.7 755.5,551.9 763.5,548.2 771.5,543.7 779.5,540.0 787.5,535.8 795.5,529.6 803.5,525.8 811.5,520.9 819.5,517.1 827.5,513.9 835.5,512.2 843.5,510.4 851.5,509.7 859.5,509.7 867.5,509.7 875.5,510.4 883.5,511.7 891.5,514.1 899.5,516.4 907.5,519.1 915.5,521.4 923.5,523.8 931.5,525.1 939.5,526.6 947.5,527.6 955.5,529.1 963.5,530.3 971.5,532.8 979.5,534.0 987.5,536.3 995.5,539.5 1003.5,543.2 1011.5,548.2 1019.5,553.2 1027.5,558.1 1035.5,563.6 1043.5,567.6 1051.5,572.3 1059.5,575.0 1067.5,578.8 1075.5,580.0 1083.5,581.3 1091.5,581.3 1099.5,580.8 1107.5,579.8 1115.5,578.5 1123.5,576.0 1131.5,574.3 1139.5,573.0 1147.5,572.6 1155.5,572.3 1163.5,571.3 1171.5,571.3 1179.5,570.0 1187.5,570.0 1195.5,569.3 1203.5,569.3 1211.5,568.0 1219.5,567.3 1227.5,566.1 1235.5,565.1 1243.5,562.6 1251.5,561.4 1259.5,560.6 1267.5,557.6 1275.5,556.4 1283.5,553.7 1291.5,551.9 1299.5,548.2 1307.5,545.0 1315.5,542.7 1323.5,541.5 1331.5,539.0 1339.5,538.5 1347.5,538.5 1355.5,539.5 1363.5,540.7 1371.5,543.2 1379.5,546.5 1387.5,549.0 1395.5,551.2 1403.5,553.2 1411.5,554.4 1419.5,555.2 1427.5,555.2 1435.5,553.9 1443.5,552.7 1451.5,549.0 1459.5,546.5 1467.5,542.5 1475.5,539.0 1483.5,534.5 1491.5,531.5 1499.5,527.8 1507.5,526.6 1515.5,525.6 1523.5,525.3 1531.5,525.3 1539.5,526.3 1547.5,529.6 1555.5,532.5 1563.5,534.5 1571.5,538.3 1579.5,541.5 1587.5,544.0 1595.5,547.5 1603.5,550.7 1611.5,553.2 1619.5,555.2 1627.5,556.4 1635.5,557.4 1643.5,557.4 1651.5,558.6 1659.5,559.4 1667.5,559.4" fill="none" stroke="#ff0000" stroke-width="1" stroke-dasharray="3 3"/>
<line x1="3" x2="1684" y1="705.5" y2="705.5" stroke="#c0c0c0" stroke-width="1" stroke-dasharray="3 3"/>
<line x1="3" x2="1684" y1="763.5" y2="763.5" stroke="#c0c0c0" stroke-width="1" stroke-dasharray="3 3"/>
<polyline points="3.5,750.0 11.5,763.6 19.5,766.0 27.5,773.6 35.5,774.8 43.5,767.4 51.5,755.7 59.5,752.0 67.5,732.6 75.5,731.3 83.5,729.3 91.5,735.6 99.5,733.3 107.5,743.3 115.5,751.7 123.5,748.2 131.5,743.8 139.5,737.0 147.5,733.3 155.5,725.6 163.5,724.4 171.5,724.4 179.5,724.4 187.5,734.3 195.5,730.0 203.5,720.0 211.5,725.6 219.5,722.0 227.5,720.0 235.5,721.4 243.5,722.6 251.5,735.6 259.5,733.3 267.5,735.6 275.5,734.3 283.5,729.3 291.5,732.6 299.5,734.6 307.5,733.3 315.5,749.5 323.5,747.5 331.5,747.5 339.5,730.8 347.5,745.5 355.5,741.3 363.5,726.4 371.5,725.9 379.5,725.9 387.5,730.8 395.5,733.3 403.5,743.8 411.5,748.2 419.5,752.5 427.5,752.5 435.5,745.0 443.5,737.5 451.5,741.3 459.5,736.8 467.5,742.5 475.5,743.8 483.5,740.5 491.5,739.3 499.5,733.3 507.5,751.2 515.5,735.6 523.5,737.5 531.5,735.6 539.5,738.8 547.5,735.6 555.5,733.3 563.5,732.3 571.5,732.3 579.5,734.6 587.5,739.5 595.5,736.8 603.5,735.6 611.5,736.8 619.5,735.6 627.5,731.3 635.5,737.5 643.5,745.5 651.5,725.6 659.5,731.3 667.5,732.6 675.5,734.6 683.5,728.3 691.5,729.6 699.5,726.4 707.5,722.0 715.5,723.4 723.5,722.0 731.5,720.0 739.5,715.2 747.5,710.2 755.5,695.3 763.5,695.3 771.5,698.3 779.5,696.5 787.5,702.7 795.5,701.5 803.5,699.5 811.5,698.3 819.5,699.5 827.5,698.3 835.5,696.5 843.5,697.8 851.5,705.7 859.5,708.2 867.5,709.5 875.5,718.4 883.5,717.2 891.5,710.2 899.5,717.2 907.5,715.2 915.5,709.5 923.5,711.4 931.5,703.5 939.5,700.3 947.5,715.2 955.5,735.0 963.5,733.0 971.5,737.0 979.5,740.5 987.5,733.0 995.5,747.0 1003.5,743.3 1011.5,752.5 1019.5,752.5 1027.5,751.2 1035.5,755.0 1043.5,750.7 1051.5,740.8 1059.5,738.8 1067.5,737.3 1075.5,737.0 1083.5,735.3 1091.5,739.0 1099.5,733.0 1107.5,728.6 1115.5,728.6 1123.5,734.0 1131.5,735.6 1139.5,742.5 1147.5,750.5 1155.5,735.6 1163.5,735.6 1171.5,734.0 1179.5,728.8 1187.5,725.1 1195.5,729.3 1203.5,731.3 1211.5,720.0 1219.5,735.6 1227.5,734.3 1235.5,722.6 1243.5,713.2 1251.5,724.4 1259.5,727.6 1267.5,719.2 1275.5,718.2 1283.5,710.2 1291.5,712.2 1299.5,709.5 1307.5,709.5 1315.5,714.0 1323.5,716.4 1331.5,733.8 1339.5,738.3 1347.5,736.3 1355.5,736.3 1363.5,731.3 1371.5,737.0 1379.5,738.3 1387.5,733.8 1395.5,723.1 1403.5,721.4 1411.5,719.4 1419.5,720.9 1427.5,716.4 1435.5,705.2 1443.5,704.0 1451.5,702.2 1459.5,697.3 1467.5,698.3 1475.5,695.3 1483.5,696.5 1491.5,706.0 1499.5,723.1 1507.5,726.4 1515.5,718.4 1523.5,715.2 1531.5,728.3 1539.5,728.3 1547.5,736.3 1555.5,735.0 1563.5,731.3 1571.5,737.0 1579.5,741.3 1587.5,731.3 1595.5,736.3 1603.5,735.0 1611.5,724.4 1619.5,730.0 1627.5,728.3 1635.5,724.4 1643.5,736.3 1651.5,737.5 1659.5,737.5 1667.5,737.5" fill="none" stroke="#1e90ff" stroke-width="1"/>
<rect x="2" y="2" width="1683" height="1" fill="#000"/>
<rect x="2" y="496" width="1683" height="1" fill="#000"/>
<rect x="2" y="2" width="1" height="495" fill="#000"/>
<rect x="1684" y="2" width="1" height="495" fill="#000"/>
<rect x="2" y="498" width="1683" height="1" fill="#000"/>
<rect x="2" y="658" width="1683" height="1" fill="#000"/>
<rect x="2" y="498" width="1" height="161" fill="#000"/>
<rect x="1684" y="498" width="1" height="161" fill="#000"/>
<rect x="2" y="660" width="1683" height="1" fill="#000"/>
<rect x="2" y="807" width="1683" height="1" fill="#000"/>
<rect x="2" y="660" width="1" height="148" fill="#000"/>
<rect x="1684" y="660" width="1" height="148" fill="#000"/>
<rect x="3" y="22" width="1682" height="2" fill="#ff0000"/>
<rect x="3" y="116" width="1682" height="2" fill="#32cd32"/>
<rect x="3" y="211" width="1682" height="2" fill="#4169e1"/>
<rect x="3" y="282" width="1682" height="2" fill="#4169e1"/>
<rect x="3" y="376" width="1682" height="2" fill="#4169e1"/>
<rect x="1685" y="31" width="2" height="1" fill="#000"/>
<rect x="1685" y="64" width="2" height="1" fill="#000"/>
<rect x="1685" y="97" width="2" height="1" fill="#000"/>
<rect x="1685" y="130" width="2" height="1" fill="#000"/>
<rect x="1685" y="163" width="2" height="1" fill="#000"/>
<rect x="1685" y="196" width="2" height="1" fill="#000"/>
<rect x="1685" y="229" width="2" height="1" fill="#000"/>
<rect x="1685" y="262" width="2" height="1" fill="#000"/>
<rect x="1685" y="295" width="2" height="1" fill="#000"/>
<rect x="1685" y="328" width="2" height="1" fill="#000"/>
<rect x="1685" y="361" width="2" height="1" fill="#000"/>
<rect x="1685" y="394" width="2" height="1" fill="#000"/>
<rect x="1685" y="427" width="2" height="1" fill="#000"/>
<rect x="1685" y="460" width="2" height="1" fill="#000"/>
<rect x="1685" y="493" width="2" height="1" fill="#000"/>
<rect x="1685" y="565" width="2" height="1" fill="#000"/>
<rect x="1685" y="499" width="2" height="1" fill="#000"/>
<rect x="1685" y="658" width="2" height="1" fill="#000"/>
<rect x="1685" y="660" width="2" height="1" fill="#000"/>
<rect x="1685" y="806" width="2" height="1" fill="#000"/>
<rect x="3" y="808" width="1" height="3" fill="#000"/>
<rect x="67" y="808" width="1" height="3" fill="#000"/>
<rect x="131" y="808" width="1" height="3" fill="#000"/>
<rect x="195" y="808" width="1" height="3" fill="#000"/>
<rect x="259" y="808" width="1" height="3" fill="#000"/>
<rect x="323" y="808" width="1" height="3" fill="#000"/>
<rect x="387" y="808" width="1" height="3" fill="#000"/>
<rect x="451" y="808" width="1" height="3" fill="#000"/>
<rect x="515" y="808" width="1" height="3" fill="#000"/>
<rect x="579" y="808" width="1" height="3" fill="#000"/>
<rect x="643" y="808" width="1" height="3" fill="#000"/>
<rect x="707" y="808" width="1" height="3" fill="#000"/>
<rect x="771" y="808" width="1" height="3" fill="#000"/>
<rect x="835" y="808" width="1" height="3" fill="#000"/>
<rect x="899" y="808" width="1" height="3" fill="#000"/>
<rect x="963" y="808" width="1" height="3" fill="#000"/>
<rect x="1027" y="808" width="1" height="3" fill="#000"/>
<rect x="1091" y="808" width="1" height="3" fill="#000"/>
<rect x="1155" y="808" width="1" height="3" fill="#000"/>
<rect x="1219" y="808" width="1" height="3" fill="#000"/>
<rect x="1283" y="808" width="1" height="3" fill="#000"/>
<rect x="1347" y="808" width="1" height="3" fill="#000"/>
<rect x="1411" y="808" width="1" height="3" fill="#000"/>
<rect x="1475" y="808" width="1" height="3" fill="#000"/>
<rect x="1539" y="808" width="1" height="3" fill="#000"/>
<rect x="1603" y="808" width="1" height="3" fill="#000"/>
<rect x="1667" y="808" width="1" height="3" fill="#000"/>
<rect x="1686" y="103" width="36" height="11" fill="#000"/>
<rect x="1686" y="17" width="36" height="11" fill="#ff0000"/>
<rect x="1686" y="206" width="36" height="11" fill="#4169e1"/>
<rect x="1686" y="277" width="36" height="11" fill="#4169e1"/>
<rect x="1686" y="371" width="36" height="11" fill="#4169e1"/>
</g>
<text x="1690" y="35" fill="#000" stroke="#000" stroke-width="0.12" font-size="9.8" text-anchor="start" letter-spacing="-0.329">69.820</text>
<text x="1690" y="68" fill="#000" stroke="#000" stroke-width="0.12" font-size="9.8" text-anchor="start" letter-spacing="-0.329">69.120</text>
<text x="1690" y="101" fill="#000" stroke="#000" stroke-width="0.12" font-size="9.8" text-anchor="start" letter-spacing="-0.329">68.440</text>
<text x="1690" y="134" fill="#000" stroke="#000" stroke-width="0.12" font-size="9.8" text-anchor="start" letter-spacing="-0.329">67.740</text>
<text x="1690" y="167" fill="#000" stroke="#000" stroke-width="0.12" font-size="9.8" text-anchor="start" letter-spacing="-0.329">67.040</text>
<text x="1690" y="200" fill="#000" stroke="#000" stroke-width="0.12" font-size="9.8" text-anchor="start" letter-spacing="-0.329">66.340</text>
<text x="1690" y="233" fill="#000" stroke="#000" stroke-width="0.12" font-size="9.8" text-anchor="start" letter-spacing="-0.329">65.640</text>
<text x="1690" y="266" fill="#000" stroke="#000" stroke-width="0.12" font-size="9.8" text-anchor="start" letter-spacing="-0.329">64.940</text>
<text x="1690" y="299" fill="#000" stroke="#000" stroke-width="0.12" font-size="9.8" text-anchor="start" letter-spacing="-0.329">64.240</text>
<text x="1690" y="332" fill="#000" stroke="#000" stroke-width="0.12" font-size="9.8" text-anchor="start" letter-spacing="-0.329">63.540</text>
<text x="1690" y="365" fill="#000" stroke="#000" stroke-width="0.12" font-size="9.8" text-anchor="start" letter-spacing="-0.329">62.840</text>
<text x="1690" y="398" fill="#000" stroke="#000" stroke-width="0.12" font-size="9.8" text-anchor="start" letter-spacing="-0.329">62.140</text>
<text x="1690" y="431" fill="#000" stroke="#000" stroke-width="0.12" font-size="9.8" text-anchor="start" letter-spacing="-0.329">61.440</text>
<text x="1690" y="464" fill="#000" stroke="#000" stroke-width="0.12" font-size="9.8" text-anchor="start" letter-spacing="-0.329">60.760</text>
<text x="1690" y="497" fill="#000" stroke="#000" stroke-width="0.12" font-size="9.8" text-anchor="start" letter-spacing="-0.329">60.060</text>
<text x="1690" y="111.5" fill="#fff" stroke="#fff" stroke-width="0.12" font-size="9.8" text-anchor="start" letter-spacing="-0.329">68.190</text>
<rect x="1686" y="111" width="36" height="11" fill="#32cd32" shape-rendering="crispEdges"/>
<text x="1690" y="26" fill="#fff" stroke="#fff" stroke-width="0.12" font-size="9.8" text-anchor="start" letter-spacing="-0.329">70.000</text>
<text x="1690" y="120" fill="#fff" stroke="#fff" stroke-width="0.12" font-size="9.8" text-anchor="start" letter-spacing="-0.329">68.000</text>
<text x="1690" y="215" fill="#fff" stroke="#fff" stroke-width="0.12" font-size="9.8" text-anchor="start" letter-spacing="-0.329">66.000</text>
<text x="1690" y="286" fill="#fff" stroke="#fff" stroke-width="0.12" font-size="9.8" text-anchor="start" letter-spacing="-0.329">64.500</text>
<text x="1690" y="380" fill="#fff" stroke="#fff" stroke-width="0.12" font-size="9.8" text-anchor="start" letter-spacing="-0.329">62.500</text>
<text x="1688" y="509" fill="#000" stroke="#000" stroke-width="0.12" font-size="9.8" text-anchor="start" letter-spacing="-0.329">1.0604</text>
<text x="1688" y="569" fill="#000" stroke="#000" stroke-width="0.12" font-size="9.8" text-anchor="start" letter-spacing="-0.268">0.00</text>
<text x="1688" y="655" fill="#000" stroke="#000" stroke-width="0.12" font-size="9.8" text-anchor="start" letter-spacing="-0.319">-1.4805</text>
<text x="1688" y="671" fill="#000" stroke="#000" stroke-width="0.12" font-size="9.8" text-anchor="start" letter-spacing="-0.350">100</text>
<text x="1688" y="709" fill="#000" stroke="#000" stroke-width="0.12" font-size="9.8" text-anchor="start" letter-spacing="-0.350">70</text>
<text x="1688" y="767" fill="#000" stroke="#000" stroke-width="0.12" font-size="9.8" text-anchor="start" letter-spacing="-0.350">30</text>
<text x="1688" y="804" fill="#000" stroke="#000" stroke-width="0.12" font-size="9.8" text-anchor="start" letter-spacing="-0.350">0</text>
<path d="M6.5 9.5 L13.5 9.5 L10 13 Z" fill="#000"/>
<text x="18.5" y="14" fill="#000" stroke="#000" stroke-width="0.12" font-size="9.8" text-anchor="start" letter-spacing="-0.234">UKOil-,H4</text>
<text x="67.5" y="14" fill="#000" stroke="#000" stroke-width="0.12" font-size="9.8" text-anchor="start" letter-spacing="-0.298">68.190 68.190 68.190 68.190</text>
<text x="7.5" y="511" fill="#000" stroke="#000" stroke-width="0.12" font-size="9.8" text-anchor="start" letter-spacing="-0.221">MACD(12,26,9) 0.0367 0.1026</text>
<text x="7.5" y="673" fill="#000" stroke="#000" stroke-width="0.12" font-size="9.8" text-anchor="start" letter-spacing="-0.327">RSI(14) 47.8657</text>
<text x="2.5" y="820" fill="#000" stroke="#000" stroke-width="0.12" font-size="9.8" text-anchor="start" letter-spacing="-0.365">23 Mar 2021</text>
<text x="66.5" y="820" fill="#000" stroke="#000" stroke-width="0.12" font-size="9.8" text-anchor="start" letter-spacing="-0.270">24 Mar 12:00</text>
<text x="130.5" y="820" fill="#000" stroke="#000" stroke-width="0.12" font-size="9.8" text-anchor="start" letter-spacing="-0.270">26 Mar 00:00</text>
<text x="194.5" y="820" fill="#000" stroke="#000" stroke-width="0.12" font-size="9.8" text-anchor="start" letter-spacing="-0.270">29 Mar 04:00</text>
<text x="258.5" y="820" fill="#000" stroke="#000" stroke-width="0.12" font-size="9.8" text-anchor="start" letter-spacing="-0.270">30 Mar 12:00</text>
<text x="322.5" y="820" fill="#000" stroke="#000" stroke-width="0.12" font-size="9.8" text-anchor="start" letter-spacing="-0.270">31 Mar 20:00</text>
<text x="386.5" y="820" fill="#000" stroke="#000" stroke-width="0.12" font-size="9.8" text-anchor="start" letter-spacing="-0.139">5 Apr 00:00</text>
<text x="450.5" y="820" fill="#000" stroke="#000" stroke-width="0.12" font-size="9.8" text-anchor="start" letter-spacing="-0.139">6 Apr 08:00</text>
<text x="514.5" y="820" fill="#000" stroke="#000" stroke-width="0.12" font-size="9.8" text-anchor="start" letter-spacing="-0.139">7 Apr 16:00</text>
<text x="578.5" y="820" fill="#000" stroke="#000" stroke-width="0.12" font-size="9.8" text-anchor="start" letter-spacing="-0.139">9 Apr 00:00</text>
<text x="642.5" y="820" fill="#000" stroke="#000" stroke-width="0.12" font-size="9.8" text-anchor="start" letter-spacing="-0.156">12 Apr 04:00</text>
<text x="706.5" y="820" fill="#000" stroke="#000" stroke-width="0.12" font-size="9.8" text-anchor="start" letter-spacing="-0.156">13 Apr 12:00</text>
<text x="770.5" y="820" fill="#000" stroke="#000" stroke-width="0.12" font-size="9.8" text-anchor="start" letter-spacing="-0.156">14 Apr 20:00</text>
<text x="834.5" y="820" fill="#000" stroke="#000" stroke-width="0.12" font-size="9.8" text-anchor="start" letter-spacing="-0.156">16 Apr 04:00</text>
<text x="898.5" y="820" fill="#000" stroke="#000" stroke-width="0.12" font-size="9.8" text-anchor="start" letter-spacing="-0.156">19 Apr 08:00</text>
<text x="962.5" y="820" fill="#000" stroke="#000" stroke-width="0.12" font-size="9.8" text-anchor="start" letter-spacing="-0.156">20 Apr 16:00</text>
<text x="1026.5" y="820" fill="#000" stroke="#000" stroke-width="0.12" font-size="9.8" text-anchor="start" letter-spacing="-0.156">22 Apr 00:00</text>
<text x="1090.5" y="820" fill="#000" stroke="#000" stroke-width="0.12" font-size="9.8" text-anchor="start" letter-spacing="-0.156">23 Apr 08:00</text>
<text x="1154.5" y="820" fill="#000" stroke="#000" stroke-width="0.12" font-size="9.8" text-anchor="start" letter-spacing="-0.156">26 Apr 12:00</text>
<text x="1218.5" y="820" fill="#000" stroke="#000" stroke-width="0.12" font-size="9.8" text-anchor="start" letter-spacing="-0.156">28 Apr 00:00</text>
<text x="1282.5" y="820" fill="#000" stroke="#000" stroke-width="0.12" font-size="9.8" text-anchor="start" letter-spacing="-0.156">29 Apr 08:00</text>
<text x="1346.5" y="820" fill="#000" stroke="#000" stroke-width="0.12" font-size="9.8" text-anchor="start" letter-spacing="-0.156">30 Apr 16:00</text>
<text x="1410.5" y="820" fill="#000" stroke="#000" stroke-width="0.12" font-size="9.8" text-anchor="start" letter-spacing="-0.148">3 May 20:00</text>
<text x="1474.5" y="820" fill="#000" stroke="#000" stroke-width="0.12" font-size="9.8" text-anchor="start" letter-spacing="-0.148">5 May 04:00</text>
<text x="1538.5" y="820" fill="#000" stroke="#000" stroke-width="0.12" font-size="9.8" text-anchor="start" letter-spacing="-0.148">6 May 12:00</text>
<text x="1602.5" y="820" fill="#000" stroke="#000" stroke-width="0.12" font-size="9.8" text-anchor="start" letter-spacing="-0.148">7 May 20:00</text>
<text x="1666.5" y="820" fill="#000" stroke="#000" stroke-width="0.12" font-size="9.8" text-anchor="start" letter-spacing="-0.165">10 May 21:15</text>
<text x="302" y="178" fill="#e61e25" stroke="#e61e25" stroke-width="0.35" font-size="37" text-anchor="start" font-family="&quot;Liberation Sans&quot;, &quot;Noto Sans CJK SC&quot;, sans-serif">多空转折点68</text>
</svg>
</body></html>
